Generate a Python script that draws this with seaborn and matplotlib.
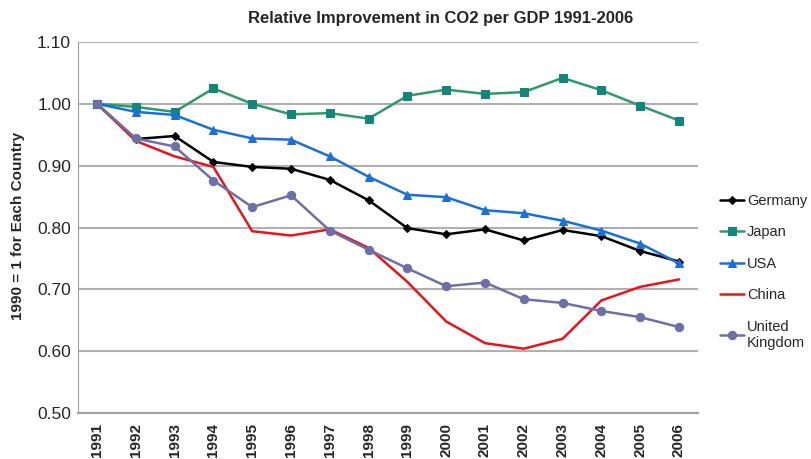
import numpy as np
import pandas as pd
import matplotlib
matplotlib.use("Agg")
import matplotlib.pyplot as plt
import seaborn as sns

years = [str(y) for y in range(1991, 2007)]
germany = [1.000, 0.943, 0.948, 0.906, 0.898, 0.895, 0.877, 0.844, 0.799, 0.789, 0.797, 0.779, 0.796, 0.786, 0.762, 0.745]
japan = [1.000, 0.995, 0.987, 1.025, 1.000, 0.983, 0.985, 0.976, 1.013, 1.023, 1.016, 1.019, 1.042, 1.022, 0.997, 0.973]
usa = [1.000, 0.987, 0.982, 0.958, 0.944, 0.942, 0.915, 0.882, 0.853, 0.849, 0.828, 0.823, 0.811, 0.795, 0.774, 0.742]
china = [1.000, 0.940, 0.915, 0.898, 0.794, 0.787, 0.797, 0.767, 0.712, 0.648, 0.613, 0.604, 0.620, 0.682, 0.704, 0.716]
uk = [1.000, 0.944, 0.931, 0.876, 0.833, 0.852, 0.795, 0.764, 0.734, 0.705, 0.711, 0.684, 0.678, 0.665, 0.655, 0.639]
y_ticks = [0.50, 0.60, 0.70, 0.80, 0.90, 1.00, 1.10]

series = [
    ("Germany", germany, "black", "D", "black", 4),
    ("Japan", japan, "#2e9a68", "s", "#13857a", 6),
    ("USA", usa, "#1a6fd8", "^", "#1a6fd8", 6),
    ("China", china, "#e8141c", None, "#e8141c", 0),
    ("United\nKingdom", uk, "#6f6fa8", "o", "#6f6fa8", 6),
]

sns.set_style("white")
plt.rcParams["font.family"] = ["Liberation Sans", "DejaVu Sans"]

fig = plt.figure(figsize=(8.12, 4.59), dpi=100)
ax = fig.add_axes([78 / 812, 1 - 413 / 459, 620 / 812, 371 / 459])

x = np.arange(len(years))
for name, vals, col, mk, mcol, ms in series:
    sns.lineplot(x=x, y=vals, ax=ax, color=col, lw=1.8, marker=mk,
                 markersize=ms, markerfacecolor=mcol, markeredgecolor=mcol,
                 label=name)

ax.set_ylim(0.50, 1.10)
ax.set_xlim(-0.49, 15.49)
ax.set_yticks(y_ticks)
ax.set_yticklabels([f"{v:.2f}" for v in y_ticks], fontsize=12.5)
ax.set_xticks(x)
ax.set_xticklabels(years, rotation=90, fontsize=11, fontweight="bold")
ax.tick_params(axis="y", length=0, pad=5)
ax.tick_params(axis="x", length=0, pad=7)
ax.yaxis.grid(True, color="#b0b0b0", lw=1.5)
ax.set_axisbelow(True)
for s in ["top", "right"]:
    ax.spines[s].set_visible(False)
ax.spines["left"].set_color("#a0a0a0")
ax.spines["bottom"].set_color("#a0a0a0")
ax.spines["bottom"].set_linewidth(1.5)
ax.set_ylabel("")
ax.set_xlabel("")
fig.text(18 / 812, 1 - 226 / 459, "1990 = 1 for Each Country", rotation=90,
         ha="center", va="center", fontsize=11, fontweight="bold")

fig.text(441 / 812, 1 - 18 / 459, "Relative Improvement in CO2 per GDP 1991-2006",
         ha="center", va="center", fontsize=12, fontweight="bold")

leg = ax.legend(loc="upper left", bbox_to_anchor=(1.026, 0.607), frameon=False,
                fontsize=10.5, handlelength=1.65, handletextpad=0.2,
                labelspacing=1.2, borderaxespad=0)

fig.savefig("out.png", dpi=100)
